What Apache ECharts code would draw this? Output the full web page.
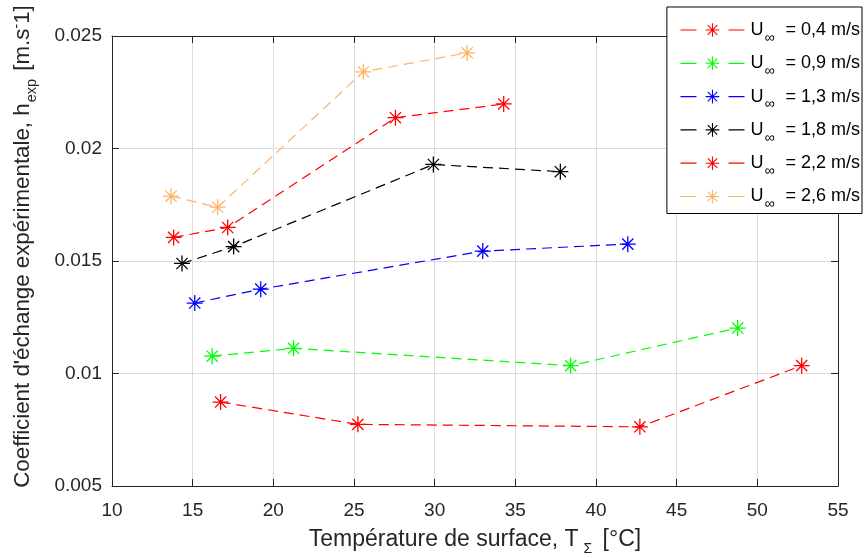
<!DOCTYPE html>
<html>
<head>
<meta charset="utf-8">
<script src="https://cdn.jsdelivr.net/npm/echarts@6/dist/echarts.min.js"></script>
<style>
html,body{margin:0;padding:0;background:#fff;}
#c{width:866px;height:558px;}
</style>
</head>
<body>
<div id="c"></div>
<script>
// ---- data ----
const speeds = ['0,4', '0,9', '1,3', '1,8', '2,2', '2,6'];
const colors = ['#FF0000', '#00FF00', '#0000FF', '#000000', '#FF0000', '#FFB366'];
const temp04 = [16.73, 25.24, 42.72, 52.75];
const h04    = [0.00873, 0.00774, 0.00763, 0.01035];
const temp09 = [16.21, 21.25, 38.43, 48.78];
const h09    = [0.01077, 0.01112, 0.01035, 0.01202];
const temp13 = [15.13, 19.22, 32.98, 41.97];
const h13    = [0.01313, 0.01375, 0.01544, 0.01575];
const temp18 = [14.34, 17.54, 29.92, 37.79];
const h18    = [0.01489, 0.01564, 0.01929, 0.01897];
const temp22 = [13.82, 17.17, 27.57, 34.28];
const h22    = [0.01605, 0.01649, 0.02137, 0.02198];
const temp26 = [13.66, 16.55, 25.58, 32.01];
const h26    = [0.01788, 0.01739, 0.02341, 0.02425];
const xTicks = {min: 10, max: 55, interval: 5};
const yTicks = {min: 0.005, max: 0.025, interval: 0.005};

const temps = [temp04, temp09, temp13, temp18, temp22, temp26];
const hs = [h04, h09, h13, h18, h22, h26];

const star = 'path://M0 46 H100 V54 H0 Z M46 0 H54 V100 H46 Z M12.2 17.8 L17.8 12.2 L87.8 82.2 L82.2 87.8 Z M82.2 12.2 L87.8 17.8 L17.8 87.8 L12.2 82.2 Z';
const FONT = '"Liberation Sans", Arial, sans-serif';
const AX = '#262626';

const series = speeds.map((s, i) => ({
  name: s,
  type: 'line',
  data: temps[i].map((t, j) => [t, hs[i][j]]),
  symbol: star,
  symbolSize: 16,
  itemStyle: {color: colors[i]},
  lineStyle: {color: colors[i], width: 1.2, type: [10, 6]},
  animation: false,
  z: 3
}));

const chart = echarts.init(document.getElementById('c'), null, {renderer: 'canvas'});
chart.setOption({
  animation: false,
  backgroundColor: '#fff',
  grid: {left: 112, right: 28, top: 36, bottom: 72, containLabel: false, outerBoundsMode: 'none'},
  legend: {
    orient: 'vertical',
    right: 4, top: 7,
    backgroundColor: '#fff',
    borderColor: '#000', borderWidth: 1,
    padding: [14, 2, 2, 13],
    itemWidth: 64, itemHeight: 17, itemGap: 9.3,
    lineStyle: {type: [16, 32], width: 1.2},
    formatter: n => 'U{sub|∞} = ' + n + ' m/s',
    textStyle: {
      fontFamily: FONT, fontSize: 18, color: '#000', padding: [0, 0, 0, 1],
      rich: {sub: {fontFamily: FONT, fontSize: 14, color: '#000', padding: [16, 6, 0, 1]}}
    },
    data: speeds
  },
  xAxis: [{
    type: 'value', min: xTicks.min, max: xTicks.max, interval: xTicks.interval,
    position: 'bottom',
    axisLine: {show: true, lineStyle: {color: AX, width: 1}},
    axisTick: {show: true, inside: true, length: 7, lineStyle: {color: AX}},
    axisLabel: {color: '#262626', fontFamily: FONT, fontSize: 19, margin: 15},
    splitLine: {show: true, lineStyle: {color: '#dcdcdc', width: 1}},
    name: 'Température de surface, T{sub|Σ} [°C]',
    nameLocation: 'middle', nameGap: 38,
    nameTextStyle: {
      color: '#262626', fontFamily: FONT, fontSize: 23,
      rich: {sub: {fontFamily: FONT, fontSize: 14, color: '#262626', padding: [18, 4, 0, 5]}}
    }
  }, {
    type: 'value', min: xTicks.min, max: xTicks.max, interval: xTicks.interval,
    position: 'top',
    axisLine: {show: true, lineStyle: {color: AX, width: 1}},
    axisTick: {show: true, inside: true, length: 7, lineStyle: {color: AX}},
    axisLabel: {show: false}, splitLine: {show: false}
  }],
  yAxis: [{
    type: 'value', min: yTicks.min, max: yTicks.max, interval: yTicks.interval,
    position: 'left',
    axisLine: {show: true, lineStyle: {color: AX, width: 1}},
    axisTick: {show: true, inside: true, length: 7, lineStyle: {color: AX}},
    axisLabel: {color: '#262626', fontFamily: FONT, fontSize: 19, margin: 10,
      formatter: v => String(+v.toFixed(4))},
    splitLine: {show: true, lineStyle: {color: '#dcdcdc', width: 1}},
    name: "Coefficient d'échange expérimentale, h{sub|exp} [m.s{sup|-}1]",
    nameLocation: 'middle', nameGap: 73, nameRotate: 90,
    nameTextStyle: {
      color: '#262626', fontFamily: FONT, fontSize: 22.3,
      padding: [0, 0, 0, 29],
      rich: {
        sub: {fontFamily: FONT, fontSize: 14.5, color: '#262626', padding: [17, 2, 0, 1]},
        sup: {fontFamily: FONT, fontSize: 14.5, color: '#262626', padding: [0, 0, 13, 0]}
      }
    }
  }, {
    type: 'value', min: yTicks.min, max: yTicks.max, interval: yTicks.interval,
    position: 'right',
    axisLine: {show: true, lineStyle: {color: AX, width: 1}},
    axisTick: {show: true, inside: true, length: 7, lineStyle: {color: AX}},
    axisLabel: {show: false}, splitLine: {show: false}
  }],
  series: series
});
</script>
</body>
</html>
